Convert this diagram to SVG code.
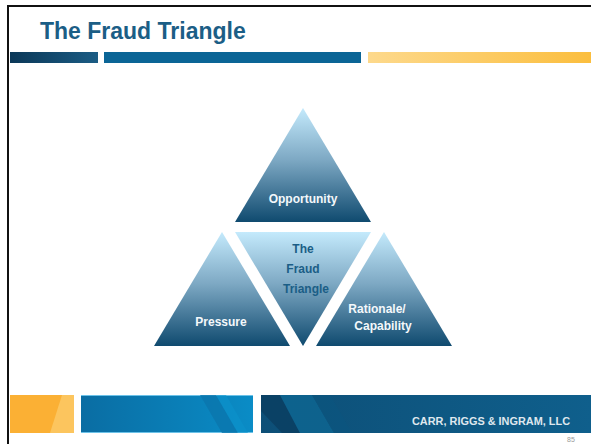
<svg xmlns="http://www.w3.org/2000/svg" width="591" height="444" viewBox="0 0 591 444">
  <defs>
    <linearGradient id="triFill" x1="0" y1="0" x2="0" y2="1">
      <stop offset="0" stop-color="#c4eafc"/>
      <stop offset="0.45" stop-color="#7ea9c4"/>
      <stop offset="1" stop-color="#0f4a6f"/>
    </linearGradient>
    <linearGradient id="navyBar" x1="0" y1="0" x2="1" y2="0">
      <stop offset="0" stop-color="#0b3858"/>
      <stop offset="1" stop-color="#1b5c84"/>
    </linearGradient>
    <linearGradient id="goldBar" x1="0" y1="0" x2="1" y2="0">
      <stop offset="0" stop-color="#fdd98c"/>
      <stop offset="1" stop-color="#fbbe3e"/>
    </linearGradient>
    <linearGradient id="footBlue" x1="0" y1="0" x2="1" y2="0">
      <stop offset="0" stop-color="#0a6da3"/>
      <stop offset="1" stop-color="#0a8cc6"/>
    </linearGradient>
    <linearGradient id="footNavy" x1="0" y1="0" x2="1" y2="0">
      <stop offset="0" stop-color="#0d4f77"/>
      <stop offset="1" stop-color="#0f5f8c"/>
    </linearGradient>
    <style>
      .tri { fill: url(#triFill); }
      .lbl { font-family: "Liberation Sans", Arial, sans-serif; font-weight: bold; font-size: 12px; text-anchor: middle; }
      .white { fill: #f4f8fb; }
      .blue { fill: #1b5e86; }
    </style>
  </defs>

  <rect width="591" height="444" fill="#ffffff"/>

  <!-- slide frame -->
  <rect x="8" y="5" width="583" height="2" fill="#111"/>
  <rect x="7" y="5" width="2" height="439" fill="#111"/>

  <!-- title -->
  <text x="40" y="39" font-family="Liberation Sans, Arial, sans-serif" font-weight="bold" font-size="23" fill="#1b5e86">The Fraud Triangle</text>

  <!-- header rule bars -->
  <rect x="10" y="52" width="88" height="11" fill="url(#navyBar)"/>
  <rect x="104" y="52" width="257" height="11" fill="#0b6596"/>
  <rect x="368" y="52" width="223" height="11" fill="url(#goldBar)"/>

  <!-- triangle nodes -->
  <g id="opportunity">
    <polygon class="tri" points="303,108 371,222 235,222"/>
    <text class="lbl white" x="303" y="203" font-size="12.5">Opportunity</text>
  </g>
  <g id="fraud-triangle">
    <polygon class="tri" points="235,232 371,232 303,346"/>
    <text class="lbl blue" x="303" y="253">The</text>
    <text class="lbl blue" x="303" y="273">Fraud</text>
    <text class="lbl blue" x="306" y="293">Triangle</text>
  </g>
  <g id="pressure">
    <polygon class="tri" points="222,232 290,346 154,346"/>
    <text class="lbl white" x="221" y="326">Pressure</text>
  </g>
  <g id="rationale">
    <polygon class="tri" points="384,232 452,346 316,346"/>
    <text class="lbl white" x="377" y="313">Rationale/</text>
    <text class="lbl white" x="383" y="330">Capability</text>
  </g>

  <g id="connectors"/>

  <!-- footer band -->
  <g id="footer">
    <rect x="10" y="395" width="64" height="38" fill="#fbb034"/>
    <polygon points="62,395 74,395 74,433 50,433" fill="#fcc55e"/>
    <rect x="81" y="395" width="172" height="38" fill="url(#footBlue)"/>
    <rect x="81" y="395" width="172" height="1" fill="#6cc2e8"/>
    <rect x="81" y="432" width="172" height="1" fill="#6cc2e8"/>
    <polygon points="200,395 216,395 238,433 222,433" fill="#0a75ad" opacity="0.8"/>
    <polygon points="216,395 226,395 248,433 238,433" fill="#0b93cc" opacity="0.6"/>
    <rect x="261" y="395" width="330" height="38" fill="url(#footNavy)"/>
    <polygon points="261,395 280,395 300,433 282,433 261,411" fill="#0b3e62" opacity="0.85"/>
    <polygon points="280,395 312,395 334,433 300,433" fill="#0e6a96" opacity="0.7"/>
    <polygon points="312,395 330,395 352,433 334,433" fill="#0c557f" opacity="0.7"/>
    <text x="412" y="425" font-family="Liberation Sans, Arial, sans-serif" font-weight="bold" font-size="11" fill="#dfe7ee" textLength="158" lengthAdjust="spacingAndGlyphs">CARR, RIGGS &amp; INGRAM, LLC</text>
  </g>
  <text x="571" y="442" font-family="Liberation Sans, Arial, sans-serif" font-size="7" fill="#9a9a9a" text-anchor="middle">85</text>
</svg>
